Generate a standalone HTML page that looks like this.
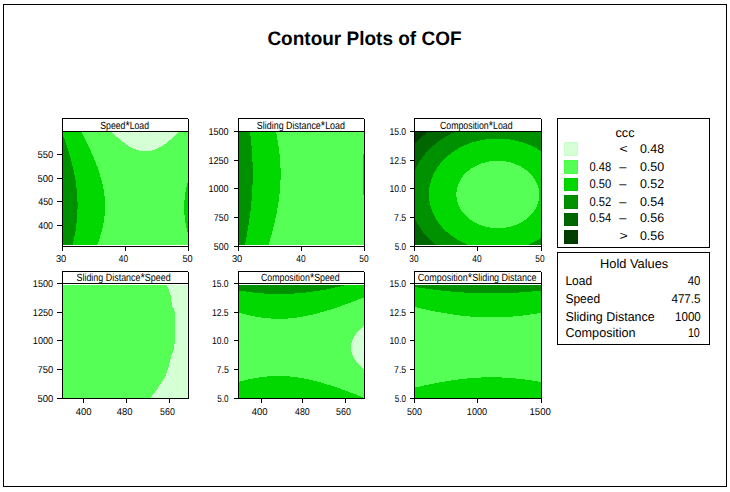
<!DOCTYPE html>
<html><head><meta charset="utf-8"><title>Contour Plots of COF</title><style>
html,body{margin:0;padding:0;background:#fff;width:730px;height:492px;overflow:hidden}
svg{display:block}
text{font-family:'Liberation Sans', Arial, sans-serif;fill:#000;text-rendering:geometricPrecision}
</style></head><body>
<svg width="730" height="492" viewBox="0 0 730 492">
<rect width="730" height="492" fill="#fff"/>
<g shape-rendering="crispEdges">
<path fill="#D5FFD5" d="M112 132h66v1h-66zM113 133h64v1h-64zM114 134h62v1h-62zM115 135h60v1h-60zM116 136h58v1h-58zM118 137h55v1h-55zM119 138h53v1h-53zM120 139h51v1h-51zM121 140h48v1h-48zM122 141h46v1h-46zM124 142h43v1h-43zM125 143h41v1h-41zM126 144h38v1h-38zM128 145h35v1h-35zM129 146h32v1h-32zM131 147h28v1h-28zM133 148h24v1h-24zM136 149h19v1h-19zM139 150h13v1h-13z"/>
<path fill="#55FF55" d="M82 132h30v1h-30zM178 132h10v1h-10zM82 133h31v1h-31zM177 133h11v1h-11zM83 134h31v1h-31zM176 134h12v1h-12zM83 135h32v1h-32zM175 135h13v1h-13zM84 136h32v1h-32zM174 136h14v1h-14zM84 137h34v1h-34zM173 137h15v1h-15zM85 138h34v1h-34zM172 138h16v1h-16zM85 139h35v1h-35zM171 139h17v1h-17zM86 140h35v1h-35zM169 140h19v1h-19zM86 141h36v1h-36zM168 141h20v1h-20zM87 142h37v1h-37zM167 142h21v1h-21zM87 143h38v1h-38zM166 143h22v1h-22zM88 144h38v1h-38zM164 144h24v1h-24zM88 145h40v1h-40zM163 145h25v1h-25zM89 146h40v1h-40zM161 146h27v1h-27zM89 147h42v1h-42zM159 147h29v1h-29zM90 148h43v1h-43zM157 148h31v1h-31zM90 149h46v1h-46zM155 149h33v1h-33zM91 150h48v1h-48zM152 150h36v1h-36zM91 151h97v1h-97zM91 152h97v1h-97zM92 153h96v1h-96zM92 154h96v1h-96zM93 155h95v1h-95zM93 156h95v1h-95zM94 157h94v1h-94zM94 158h94v1h-94zM94 159h94v1h-94zM95 160h93v1h-93zM95 161h93v1h-93zM96 162h92v1h-92zM96 163h92v1h-92zM96 164h92v1h-92zM97 165h91v1h-91zM97 166h91v1h-91zM98 167h90v1h-90zM98 168h90v1h-90zM98 169h90v1h-90zM99 170h89v1h-89zM99 171h89v1h-89zM99 172h89v1h-89zM100 173h88v1h-88zM100 174h88v1h-88zM100 175h88v1h-88zM100 176h88v1h-88zM101 177h87v1h-87zM101 178h87v1h-87zM101 179h87v1h-87zM102 180h86v1h-86zM102 181h86v1h-86zM102 182h86v1h-86zM102 183h85v1h-85zM103 184h84v1h-84zM103 185h84v1h-84zM103 186h84v1h-84zM103 187h83v1h-83zM103 188h83v1h-83zM104 189h82v1h-82zM104 190h82v1h-82zM104 191h82v1h-82zM104 192h81v1h-81zM104 193h81v1h-81zM104 194h81v1h-81zM104 195h81v1h-81zM105 196h80v1h-80zM105 197h80v1h-80zM105 198h80v1h-80zM105 199h80v1h-80zM105 200h79v1h-79zM105 201h79v1h-79zM105 202h79v1h-79zM105 203h79v1h-79zM105 204h79v1h-79zM105 205h79v1h-79zM105 206h79v1h-79zM105 207h79v1h-79zM105 208h79v1h-79zM105 209h79v1h-79zM105 210h79v1h-79zM105 211h79v1h-79zM105 212h79v1h-79zM105 213h79v1h-79zM105 214h79v1h-79zM105 215h80v1h-80zM104 216h81v1h-81zM104 217h81v1h-81zM104 218h81v1h-81zM104 219h81v1h-81zM104 220h81v1h-81zM104 221h81v1h-81zM104 222h81v1h-81zM103 223h83v1h-83zM103 224h83v1h-83zM103 225h83v1h-83zM103 226h83v1h-83zM103 227h83v1h-83zM102 228h85v1h-85zM102 229h85v1h-85zM102 230h85v1h-85zM102 231h85v1h-85zM101 232h87v1h-87zM101 233h87v1h-87zM101 234h87v1h-87zM100 235h88v1h-88zM100 236h88v1h-88zM100 237h88v1h-88zM100 238h88v1h-88zM99 239h89v1h-89zM99 240h89v1h-89zM99 241h89v1h-89zM98 242h90v1h-90zM98 243h90v1h-90zM97 244h91v1h-91z"/>
<path fill="#00D800" d="M63 132h19v1h-19zM63 133h19v1h-19zM63 134h20v1h-20zM63 135h20v1h-20zM63 136h21v1h-21zM64 137h20v1h-20zM64 138h21v1h-21zM65 139h20v1h-20zM65 140h21v1h-21zM65 141h21v1h-21zM66 142h21v1h-21zM66 143h21v1h-21zM66 144h22v1h-22zM67 145h21v1h-21zM67 146h22v1h-22zM67 147h22v1h-22zM68 148h22v1h-22zM68 149h22v1h-22zM68 150h23v1h-23zM69 151h22v1h-22zM69 152h22v1h-22zM69 153h23v1h-23zM69 154h23v1h-23zM70 155h23v1h-23zM70 156h23v1h-23zM70 157h24v1h-24zM71 158h23v1h-23zM71 159h23v1h-23zM71 160h24v1h-24zM71 161h24v1h-24zM72 162h24v1h-24zM72 163h24v1h-24zM72 164h24v1h-24zM72 165h25v1h-25zM73 166h24v1h-24zM73 167h25v1h-25zM73 168h25v1h-25zM73 169h25v1h-25zM74 170h25v1h-25zM74 171h25v1h-25zM74 172h25v1h-25zM74 173h26v1h-26zM74 174h26v1h-26zM75 175h25v1h-25zM75 176h25v1h-25zM75 177h26v1h-26zM75 178h26v1h-26zM75 179h26v1h-26zM76 180h26v1h-26zM76 181h26v1h-26zM76 182h26v1h-26zM76 183h26v1h-26zM187 183h1v1h-1zM76 184h27v1h-27zM187 184h1v1h-1zM76 185h27v1h-27zM187 185h1v1h-1zM76 186h27v1h-27zM187 186h1v1h-1zM76 187h27v1h-27zM186 187h2v1h-2zM77 188h26v1h-26zM186 188h2v1h-2zM77 189h27v1h-27zM186 189h2v1h-2zM77 190h27v1h-27zM186 190h2v1h-2zM77 191h27v1h-27zM186 191h2v1h-2zM77 192h27v1h-27zM185 192h3v1h-3zM77 193h27v1h-27zM185 193h3v1h-3zM77 194h27v1h-27zM185 194h3v1h-3zM77 195h27v1h-27zM185 195h3v1h-3zM77 196h28v1h-28zM185 196h3v1h-3zM77 197h28v1h-28zM185 197h3v1h-3zM77 198h28v1h-28zM185 198h3v1h-3zM77 199h28v1h-28zM185 199h3v1h-3zM77 200h28v1h-28zM184 200h4v1h-4zM77 201h28v1h-28zM184 201h4v1h-4zM78 202h27v1h-27zM184 202h4v1h-4zM78 203h27v1h-27zM184 203h4v1h-4zM78 204h27v1h-27zM184 204h4v1h-4zM78 205h27v1h-27zM184 205h4v1h-4zM78 206h27v1h-27zM184 206h4v1h-4zM78 207h27v1h-27zM184 207h4v1h-4zM78 208h27v1h-27zM184 208h4v1h-4zM77 209h28v1h-28zM184 209h4v1h-4zM77 210h28v1h-28zM184 210h4v1h-4zM77 211h28v1h-28zM184 211h4v1h-4zM77 212h28v1h-28zM184 212h4v1h-4zM77 213h28v1h-28zM184 213h4v1h-4zM77 214h28v1h-28zM184 214h4v1h-4zM77 215h28v1h-28zM185 215h3v1h-3zM77 216h27v1h-27zM185 216h3v1h-3zM77 217h27v1h-27zM185 217h3v1h-3zM77 218h27v1h-27zM185 218h3v1h-3zM77 219h27v1h-27zM185 219h3v1h-3zM77 220h27v1h-27zM185 220h3v1h-3zM77 221h27v1h-27zM185 221h3v1h-3zM77 222h27v1h-27zM185 222h3v1h-3zM76 223h27v1h-27zM186 223h2v1h-2zM76 224h27v1h-27zM186 224h2v1h-2zM76 225h27v1h-27zM186 225h2v1h-2zM76 226h27v1h-27zM186 226h2v1h-2zM76 227h27v1h-27zM186 227h2v1h-2zM76 228h26v1h-26zM187 228h1v1h-1zM76 229h26v1h-26zM187 229h1v1h-1zM76 230h26v1h-26zM187 230h1v1h-1zM75 231h27v1h-27zM187 231h1v1h-1zM75 232h26v1h-26zM75 233h26v1h-26zM75 234h26v1h-26zM75 235h25v1h-25zM74 236h26v1h-26zM74 237h26v1h-26zM74 238h26v1h-26zM74 239h25v1h-25zM74 240h25v1h-25zM73 241h26v1h-26zM73 242h25v1h-25zM73 243h25v1h-25zM73 244h24v1h-24z"/>
<path fill="#009100" d="M63 137h1v1h-1zM63 138h1v1h-1zM63 139h2v1h-2zM63 140h2v1h-2zM63 141h2v1h-2zM63 142h3v1h-3zM63 143h3v1h-3zM63 144h3v1h-3zM63 145h4v1h-4zM63 146h4v1h-4zM63 147h4v1h-4zM63 148h5v1h-5zM63 149h5v1h-5zM63 150h5v1h-5zM63 151h6v1h-6zM63 152h6v1h-6zM63 153h6v1h-6zM63 154h6v1h-6zM63 155h7v1h-7zM63 156h7v1h-7zM63 157h7v1h-7zM63 158h8v1h-8zM63 159h8v1h-8zM63 160h8v1h-8zM63 161h8v1h-8zM63 162h9v1h-9zM63 163h9v1h-9zM63 164h9v1h-9zM63 165h9v1h-9zM63 166h10v1h-10zM63 167h10v1h-10zM63 168h10v1h-10zM63 169h10v1h-10zM63 170h11v1h-11zM63 171h11v1h-11zM63 172h11v1h-11zM63 173h11v1h-11zM63 174h11v1h-11zM63 175h12v1h-12zM63 176h12v1h-12zM63 177h12v1h-12zM63 178h12v1h-12zM63 179h12v1h-12zM63 180h13v1h-13zM63 181h13v1h-13zM63 182h13v1h-13zM63 183h13v1h-13zM63 184h13v1h-13zM63 185h13v1h-13zM63 186h13v1h-13zM63 187h13v1h-13zM63 188h14v1h-14zM63 189h14v1h-14zM63 190h14v1h-14zM63 191h14v1h-14zM63 192h14v1h-14zM63 193h14v1h-14zM63 194h14v1h-14zM63 195h14v1h-14zM63 196h14v1h-14zM63 197h14v1h-14zM63 198h14v1h-14zM63 199h14v1h-14zM63 200h14v1h-14zM63 201h14v1h-14zM63 202h15v1h-15zM63 203h15v1h-15zM63 204h15v1h-15zM63 205h15v1h-15zM63 206h15v1h-15zM63 207h15v1h-15zM63 208h15v1h-15zM63 209h14v1h-14zM63 210h14v1h-14zM63 211h14v1h-14zM63 212h14v1h-14zM63 213h14v1h-14zM63 214h14v1h-14zM63 215h14v1h-14zM63 216h14v1h-14zM63 217h14v1h-14zM63 218h14v1h-14zM63 219h14v1h-14zM63 220h14v1h-14zM63 221h14v1h-14zM63 222h14v1h-14zM63 223h13v1h-13zM63 224h13v1h-13zM63 225h13v1h-13zM63 226h13v1h-13zM63 227h13v1h-13zM63 228h13v1h-13zM63 229h13v1h-13zM63 230h13v1h-13zM63 231h12v1h-12zM63 232h12v1h-12zM63 233h12v1h-12zM63 234h12v1h-12zM63 235h12v1h-12zM63 236h11v1h-11zM63 237h11v1h-11zM63 238h11v1h-11zM63 239h11v1h-11zM63 240h11v1h-11zM63 241h10v1h-10zM63 242h10v1h-10zM63 243h10v1h-10zM63 244h10v1h-10z"/>
<path fill="#55FF55" d="M276 132h88v1h-88zM276 133h88v1h-88zM277 134h87v1h-87zM277 135h87v1h-87zM277 136h87v1h-87zM277 137h87v1h-87zM277 138h87v1h-87zM277 139h87v1h-87zM278 140h86v1h-86zM278 141h86v1h-86zM278 142h86v1h-86zM278 143h86v1h-86zM278 144h86v1h-86zM278 145h86v1h-86zM279 146h85v1h-85zM279 147h85v1h-85zM279 148h85v1h-85zM279 149h85v1h-85zM279 150h85v1h-85zM279 151h85v1h-85zM279 152h85v1h-85zM279 153h85v1h-85zM280 154h83v1h-83zM280 155h83v1h-83zM280 156h83v1h-83zM280 157h83v1h-83zM280 158h83v1h-83zM280 159h83v1h-83zM280 160h83v1h-83zM280 161h83v1h-83zM280 162h83v1h-83zM280 163h83v1h-83zM280 164h83v1h-83zM280 165h83v1h-83zM280 166h83v1h-83zM280 167h83v1h-83zM281 168h82v1h-82zM281 169h82v1h-82zM281 170h82v1h-82zM281 171h82v1h-82zM281 172h82v1h-82zM281 173h82v1h-82zM281 174h82v1h-82zM281 175h82v1h-82zM281 176h82v1h-82zM281 177h82v1h-82zM281 178h82v1h-82zM281 179h82v1h-82zM280 180h83v1h-83zM280 181h83v1h-83zM280 182h83v1h-83zM280 183h83v1h-83zM280 184h83v1h-83zM280 185h83v1h-83zM280 186h83v1h-83zM280 187h83v1h-83zM280 188h83v1h-83zM280 189h83v1h-83zM280 190h83v1h-83zM280 191h83v1h-83zM280 192h83v1h-83zM280 193h83v1h-83zM279 194h84v1h-84zM279 195h85v1h-85zM279 196h85v1h-85zM279 197h85v1h-85zM279 198h85v1h-85zM279 199h85v1h-85zM279 200h85v1h-85zM279 201h85v1h-85zM278 202h86v1h-86zM278 203h86v1h-86zM278 204h86v1h-86zM278 205h86v1h-86zM278 206h86v1h-86zM278 207h86v1h-86zM277 208h87v1h-87zM277 209h87v1h-87zM277 210h87v1h-87zM277 211h87v1h-87zM277 212h87v1h-87zM277 213h87v1h-87zM276 214h88v1h-88zM276 215h88v1h-88zM276 216h88v1h-88zM276 217h88v1h-88zM275 218h89v1h-89zM275 219h89v1h-89zM275 220h89v1h-89zM275 221h89v1h-89zM275 222h89v1h-89zM274 223h90v1h-90zM274 224h90v1h-90zM274 225h90v1h-90zM274 226h90v1h-90zM273 227h91v1h-91zM273 228h91v1h-91zM273 229h91v1h-91zM273 230h91v1h-91zM272 231h92v1h-92zM272 232h92v1h-92zM272 233h92v1h-92zM272 234h92v1h-92zM271 235h93v1h-93zM271 236h93v1h-93zM271 237h93v1h-93zM270 238h94v1h-94zM270 239h94v1h-94zM270 240h94v1h-94zM270 241h94v1h-94zM269 242h95v1h-95zM269 243h95v1h-95zM269 244h95v1h-95z"/>
<path fill="#00D800" d="M250 132h26v1h-26zM250 133h26v1h-26zM250 134h27v1h-27zM250 135h27v1h-27zM251 136h26v1h-26zM251 137h26v1h-26zM251 138h26v1h-26zM251 139h26v1h-26zM251 140h27v1h-27zM251 141h27v1h-27zM251 142h27v1h-27zM251 143h27v1h-27zM251 144h27v1h-27zM251 145h27v1h-27zM252 146h27v1h-27zM252 147h27v1h-27zM252 148h27v1h-27zM252 149h27v1h-27zM252 150h27v1h-27zM252 151h27v1h-27zM252 152h27v1h-27zM252 153h27v1h-27zM252 154h28v1h-28zM363 154h1v1h-1zM252 155h28v1h-28zM363 155h1v1h-1zM252 156h28v1h-28zM363 156h1v1h-1zM252 157h28v1h-28zM363 157h1v1h-1zM252 158h28v1h-28zM363 158h1v1h-1zM252 159h28v1h-28zM363 159h1v1h-1zM252 160h28v1h-28zM363 160h1v1h-1zM252 161h28v1h-28zM363 161h1v1h-1zM253 162h27v1h-27zM363 162h1v1h-1zM253 163h27v1h-27zM363 163h1v1h-1zM253 164h27v1h-27zM363 164h1v1h-1zM253 165h27v1h-27zM363 165h1v1h-1zM253 166h27v1h-27zM363 166h1v1h-1zM253 167h27v1h-27zM363 167h1v1h-1zM253 168h28v1h-28zM363 168h1v1h-1zM253 169h28v1h-28zM363 169h1v1h-1zM253 170h28v1h-28zM363 170h1v1h-1zM253 171h28v1h-28zM363 171h1v1h-1zM253 172h28v1h-28zM363 172h1v1h-1zM253 173h28v1h-28zM363 173h1v1h-1zM253 174h28v1h-28zM363 174h1v1h-1zM253 175h28v1h-28zM363 175h1v1h-1zM253 176h28v1h-28zM363 176h1v1h-1zM253 177h28v1h-28zM363 177h1v1h-1zM253 178h28v1h-28zM363 178h1v1h-1zM253 179h28v1h-28zM363 179h1v1h-1zM253 180h27v1h-27zM363 180h1v1h-1zM253 181h27v1h-27zM363 181h1v1h-1zM253 182h27v1h-27zM363 182h1v1h-1zM253 183h27v1h-27zM363 183h1v1h-1zM253 184h27v1h-27zM363 184h1v1h-1zM252 185h28v1h-28zM363 185h1v1h-1zM252 186h28v1h-28zM363 186h1v1h-1zM252 187h28v1h-28zM363 187h1v1h-1zM252 188h28v1h-28zM363 188h1v1h-1zM252 189h28v1h-28zM363 189h1v1h-1zM252 190h28v1h-28zM363 190h1v1h-1zM252 191h28v1h-28zM363 191h1v1h-1zM252 192h28v1h-28zM363 192h1v1h-1zM252 193h28v1h-28zM363 193h1v1h-1zM252 194h27v1h-27zM363 194h1v1h-1zM252 195h27v1h-27zM252 196h27v1h-27zM252 197h27v1h-27zM252 198h27v1h-27zM252 199h27v1h-27zM252 200h27v1h-27zM251 201h28v1h-28zM251 202h27v1h-27zM251 203h27v1h-27zM251 204h27v1h-27zM251 205h27v1h-27zM251 206h27v1h-27zM251 207h27v1h-27zM251 208h26v1h-26zM251 209h26v1h-26zM251 210h26v1h-26zM250 211h27v1h-27zM250 212h27v1h-27zM250 213h27v1h-27zM250 214h26v1h-26zM250 215h26v1h-26zM250 216h26v1h-26zM250 217h26v1h-26zM249 218h26v1h-26zM249 219h26v1h-26zM249 220h26v1h-26zM249 221h26v1h-26zM249 222h26v1h-26zM249 223h25v1h-25zM249 224h25v1h-25zM248 225h26v1h-26zM248 226h26v1h-26zM248 227h25v1h-25zM248 228h25v1h-25zM248 229h25v1h-25zM248 230h25v1h-25zM247 231h25v1h-25zM247 232h25v1h-25zM247 233h25v1h-25zM247 234h25v1h-25zM247 235h24v1h-24zM247 236h24v1h-24zM246 237h25v1h-25zM246 238h24v1h-24zM246 239h24v1h-24zM246 240h24v1h-24zM246 241h24v1h-24zM245 242h24v1h-24zM245 243h24v1h-24zM245 244h24v1h-24z"/>
<path fill="#009100" d="M239 132h11v1h-11zM239 133h11v1h-11zM239 134h11v1h-11zM239 135h11v1h-11zM239 136h12v1h-12zM239 137h12v1h-12zM239 138h12v1h-12zM239 139h12v1h-12zM239 140h12v1h-12zM239 141h12v1h-12zM239 142h12v1h-12zM239 143h12v1h-12zM239 144h12v1h-12zM239 145h12v1h-12zM239 146h13v1h-13zM239 147h13v1h-13zM239 148h13v1h-13zM239 149h13v1h-13zM239 150h13v1h-13zM239 151h13v1h-13zM239 152h13v1h-13zM239 153h13v1h-13zM239 154h13v1h-13zM239 155h13v1h-13zM239 156h13v1h-13zM239 157h13v1h-13zM239 158h13v1h-13zM239 159h13v1h-13zM239 160h13v1h-13zM239 161h13v1h-13zM239 162h14v1h-14zM239 163h14v1h-14zM239 164h14v1h-14zM239 165h14v1h-14zM239 166h14v1h-14zM239 167h14v1h-14zM239 168h14v1h-14zM239 169h14v1h-14zM239 170h14v1h-14zM239 171h14v1h-14zM239 172h14v1h-14zM239 173h14v1h-14zM239 174h14v1h-14zM239 175h14v1h-14zM239 176h14v1h-14zM239 177h14v1h-14zM239 178h14v1h-14zM239 179h14v1h-14zM239 180h14v1h-14zM239 181h14v1h-14zM239 182h14v1h-14zM239 183h14v1h-14zM239 184h14v1h-14zM239 185h13v1h-13zM239 186h13v1h-13zM239 187h13v1h-13zM239 188h13v1h-13zM239 189h13v1h-13zM239 190h13v1h-13zM239 191h13v1h-13zM239 192h13v1h-13zM239 193h13v1h-13zM239 194h13v1h-13zM239 195h13v1h-13zM239 196h13v1h-13zM239 197h13v1h-13zM239 198h13v1h-13zM239 199h13v1h-13zM239 200h13v1h-13zM239 201h12v1h-12zM239 202h12v1h-12zM239 203h12v1h-12zM239 204h12v1h-12zM239 205h12v1h-12zM239 206h12v1h-12zM239 207h12v1h-12zM239 208h12v1h-12zM239 209h12v1h-12zM239 210h12v1h-12zM239 211h11v1h-11zM239 212h11v1h-11zM239 213h11v1h-11zM239 214h11v1h-11zM239 215h11v1h-11zM239 216h11v1h-11zM239 217h11v1h-11zM239 218h10v1h-10zM239 219h10v1h-10zM239 220h10v1h-10zM239 221h10v1h-10zM239 222h10v1h-10zM239 223h10v1h-10zM239 224h10v1h-10zM239 225h9v1h-9zM239 226h9v1h-9zM239 227h9v1h-9zM239 228h9v1h-9zM239 229h9v1h-9zM239 230h9v1h-9zM239 231h8v1h-8zM239 232h8v1h-8zM239 233h8v1h-8zM239 234h8v1h-8zM239 235h8v1h-8zM239 236h8v1h-8zM239 237h7v1h-7zM239 238h7v1h-7zM239 239h7v1h-7zM239 240h7v1h-7zM239 241h7v1h-7zM239 242h6v1h-6zM239 243h6v1h-6zM239 244h6v1h-6z"/>
<path fill="#55FF55" d="M489 161h17v1h-17zM485 162h26v1h-26zM481 163h33v1h-33zM479 164h37v1h-37zM477 165h42v1h-42zM475 166h46v1h-46zM473 167h49v1h-49zM471 168h53v1h-53zM470 169h55v1h-55zM469 170h58v1h-58zM467 171h61v1h-61zM466 172h63v1h-63zM465 173h65v1h-65zM464 174h67v1h-67zM463 175h69v1h-69zM463 176h70v1h-70zM462 177h71v1h-71zM461 178h73v1h-73zM461 179h74v1h-74zM460 180h75v1h-75zM460 181h76v1h-76zM459 182h77v1h-77zM459 183h78v1h-78zM458 184h79v1h-79zM458 185h80v1h-80zM458 186h80v1h-80zM457 187h81v1h-81zM457 188h82v1h-82zM457 189h82v1h-82zM457 190h82v1h-82zM457 191h82v1h-82zM456 192h83v1h-83zM456 193h83v1h-83zM456 194h83v1h-83zM456 195h83v1h-83zM456 196h83v1h-83zM457 197h82v1h-82zM457 198h82v1h-82zM457 199h82v1h-82zM457 200h82v1h-82zM457 201h81v1h-81zM458 202h80v1h-80zM458 203h80v1h-80zM458 204h79v1h-79zM459 205h78v1h-78zM459 206h78v1h-78zM460 207h76v1h-76zM460 208h76v1h-76zM461 209h74v1h-74zM461 210h73v1h-73zM462 211h72v1h-72zM463 212h70v1h-70zM464 213h68v1h-68zM465 214h66v1h-66zM466 215h64v1h-64zM467 216h62v1h-62zM468 217h60v1h-60zM469 218h58v1h-58zM470 219h56v1h-56zM472 220h52v1h-52zM473 221h50v1h-50zM475 222h46v1h-46zM477 223h42v1h-42zM479 224h38v1h-38zM482 225h32v1h-32zM485 226h26v1h-26zM490 227h16v1h-16z"/>
<path fill="#00D800" d="M485 139h25v1h-25zM480 140h35v1h-35zM476 141h43v1h-43zM472 142h51v1h-51zM469 143h57v1h-57zM467 144h61v1h-61zM464 145h67v1h-67zM462 146h71v1h-71zM460 147h75v1h-75zM458 148h79v1h-79zM457 149h81v1h-81zM455 150h85v1h-85zM454 151h87v1h-87zM452 152h89v1h-89zM451 153h90v1h-90zM450 154h91v1h-91zM448 155h93v1h-93zM447 156h94v1h-94zM446 157h95v1h-95zM445 158h96v1h-96zM444 159h97v1h-97zM443 160h98v1h-98zM442 161h47v1h-47zM506 161h35v1h-35zM441 162h44v1h-44zM511 162h30v1h-30zM440 163h41v1h-41zM514 163h27v1h-27zM440 164h39v1h-39zM516 164h25v1h-25zM439 165h38v1h-38zM519 165h22v1h-22zM438 166h37v1h-37zM521 166h20v1h-20zM437 167h36v1h-36zM522 167h19v1h-19zM437 168h34v1h-34zM524 168h17v1h-17zM436 169h34v1h-34zM525 169h16v1h-16zM436 170h33v1h-33zM527 170h14v1h-14zM435 171h32v1h-32zM528 171h13v1h-13zM434 172h32v1h-32zM529 172h12v1h-12zM434 173h31v1h-31zM530 173h11v1h-11zM433 174h31v1h-31zM531 174h10v1h-10zM433 175h30v1h-30zM532 175h9v1h-9zM433 176h30v1h-30zM533 176h8v1h-8zM432 177h30v1h-30zM533 177h8v1h-8zM432 178h29v1h-29zM534 178h7v1h-7zM431 179h30v1h-30zM535 179h6v1h-6zM431 180h29v1h-29zM535 180h6v1h-6zM431 181h29v1h-29zM536 181h5v1h-5zM431 182h28v1h-28zM536 182h5v1h-5zM430 183h29v1h-29zM537 183h4v1h-4zM430 184h28v1h-28zM537 184h4v1h-4zM430 185h28v1h-28zM538 185h3v1h-3zM430 186h28v1h-28zM538 186h3v1h-3zM429 187h28v1h-28zM538 187h3v1h-3zM429 188h28v1h-28zM539 188h2v1h-2zM429 189h28v1h-28zM539 189h2v1h-2zM429 190h28v1h-28zM539 190h2v1h-2zM429 191h28v1h-28zM539 191h2v1h-2zM429 192h27v1h-27zM539 192h2v1h-2zM429 193h27v1h-27zM539 193h2v1h-2zM429 194h27v1h-27zM539 194h2v1h-2zM429 195h27v1h-27zM539 195h2v1h-2zM429 196h27v1h-27zM539 196h2v1h-2zM429 197h28v1h-28zM539 197h2v1h-2zM429 198h28v1h-28zM539 198h2v1h-2zM429 199h28v1h-28zM539 199h2v1h-2zM429 200h28v1h-28zM539 200h2v1h-2zM430 201h27v1h-27zM538 201h3v1h-3zM430 202h28v1h-28zM538 202h3v1h-3zM430 203h28v1h-28zM538 203h3v1h-3zM430 204h28v1h-28zM537 204h4v1h-4zM430 205h29v1h-29zM537 205h4v1h-4zM431 206h28v1h-28zM537 206h4v1h-4zM431 207h29v1h-29zM536 207h5v1h-5zM431 208h29v1h-29zM536 208h5v1h-5zM432 209h29v1h-29zM535 209h6v1h-6zM432 210h29v1h-29zM534 210h7v1h-7zM432 211h30v1h-30zM534 211h7v1h-7zM433 212h30v1h-30zM533 212h8v1h-8zM433 213h31v1h-31zM532 213h9v1h-9zM434 214h31v1h-31zM531 214h10v1h-10zM434 215h32v1h-32zM530 215h11v1h-11zM435 216h32v1h-32zM529 216h12v1h-12zM435 217h33v1h-33zM528 217h13v1h-13zM436 218h33v1h-33zM527 218h14v1h-14zM436 219h34v1h-34zM526 219h15v1h-15zM437 220h35v1h-35zM524 220h17v1h-17zM438 221h35v1h-35zM523 221h18v1h-18zM438 222h37v1h-37zM521 222h20v1h-20zM439 223h38v1h-38zM519 223h22v1h-22zM440 224h39v1h-39zM517 224h24v1h-24zM441 225h41v1h-41zM514 225h27v1h-27zM442 226h43v1h-43zM511 226h30v1h-30zM442 227h48v1h-48zM506 227h35v1h-35zM443 228h98v1h-98zM444 229h97v1h-97zM445 230h96v1h-96zM446 231h95v1h-95zM448 232h93v1h-93zM449 233h92v1h-92zM450 234h91v1h-91zM451 235h90v1h-90zM453 236h88v1h-88zM454 237h87v1h-87zM456 238h84v1h-84zM457 239h82v1h-82zM459 240h78v1h-78zM461 241h74v1h-74zM463 242h70v1h-70zM465 243h66v1h-66zM467 244h62v1h-62z"/>
<path fill="#009100" d="M454 132h87v1h-87zM451 133h90v1h-90zM450 134h91v1h-91zM448 135h93v1h-93zM446 136h95v1h-95zM444 137h97v1h-97zM443 138h98v1h-98zM441 139h44v1h-44zM510 139h31v1h-31zM440 140h40v1h-40zM515 140h26v1h-26zM438 141h38v1h-38zM519 141h22v1h-22zM437 142h35v1h-35zM523 142h18v1h-18zM436 143h33v1h-33zM526 143h15v1h-15zM435 144h32v1h-32zM528 144h13v1h-13zM433 145h31v1h-31zM531 145h10v1h-10zM432 146h30v1h-30zM533 146h8v1h-8zM431 147h29v1h-29zM535 147h6v1h-6zM430 148h28v1h-28zM537 148h4v1h-4zM429 149h28v1h-28zM538 149h3v1h-3zM428 150h27v1h-27zM540 150h1v1h-1zM427 151h27v1h-27zM426 152h26v1h-26zM425 153h26v1h-26zM425 154h25v1h-25zM424 155h24v1h-24zM423 156h24v1h-24zM422 157h24v1h-24zM422 158h23v1h-23zM421 159h23v1h-23zM420 160h23v1h-23zM419 161h23v1h-23zM419 162h22v1h-22zM418 163h22v1h-22zM418 164h22v1h-22zM417 165h22v1h-22zM417 166h21v1h-21zM416 167h21v1h-21zM416 168h21v1h-21zM415 169h21v1h-21zM415 170h21v1h-21zM415 171h20v1h-20zM415 172h19v1h-19zM415 173h19v1h-19zM415 174h18v1h-18zM415 175h18v1h-18zM415 176h18v1h-18zM415 177h17v1h-17zM415 178h17v1h-17zM415 179h16v1h-16zM415 180h16v1h-16zM415 181h16v1h-16zM415 182h16v1h-16zM415 183h15v1h-15zM415 184h15v1h-15zM415 185h15v1h-15zM415 186h15v1h-15zM415 187h14v1h-14zM415 188h14v1h-14zM415 189h14v1h-14zM415 190h14v1h-14zM415 191h14v1h-14zM415 192h14v1h-14zM415 193h14v1h-14zM415 194h14v1h-14zM415 195h14v1h-14zM415 196h14v1h-14zM415 197h14v1h-14zM415 198h14v1h-14zM415 199h14v1h-14zM415 200h14v1h-14zM415 201h15v1h-15zM415 202h15v1h-15zM415 203h15v1h-15zM415 204h15v1h-15zM415 205h15v1h-15zM415 206h16v1h-16zM415 207h16v1h-16zM415 208h16v1h-16zM415 209h17v1h-17zM415 210h17v1h-17zM415 211h17v1h-17zM415 212h18v1h-18zM415 213h18v1h-18zM415 214h19v1h-19zM415 215h19v1h-19zM415 216h20v1h-20zM415 217h20v1h-20zM415 218h21v1h-21zM415 219h21v1h-21zM416 220h21v1h-21zM416 221h22v1h-22zM417 222h21v1h-21zM417 223h22v1h-22zM418 224h22v1h-22zM419 225h22v1h-22zM419 226h23v1h-23zM420 227h22v1h-22zM421 228h22v1h-22zM421 229h23v1h-23zM422 230h23v1h-23zM423 231h23v1h-23zM423 232h25v1h-25zM424 233h25v1h-25zM425 234h25v1h-25zM426 235h25v1h-25zM427 236h26v1h-26zM428 237h26v1h-26zM429 238h27v1h-27zM540 238h1v1h-1zM430 239h27v1h-27zM539 239h2v1h-2zM431 240h28v1h-28zM537 240h4v1h-4zM432 241h29v1h-29zM535 241h6v1h-6zM433 242h30v1h-30zM533 242h8v1h-8zM434 243h31v1h-31zM531 243h10v1h-10zM435 244h32v1h-32zM529 244h12v1h-12z"/>
<path fill="#006600" d="M427 132h27v1h-27zM426 133h25v1h-25zM425 134h25v1h-25zM423 135h25v1h-25zM422 136h24v1h-24zM421 137h23v1h-23zM420 138h23v1h-23zM419 139h22v1h-22zM418 140h22v1h-22zM417 141h21v1h-21zM416 142h21v1h-21zM415 143h21v1h-21zM415 144h20v1h-20zM415 145h18v1h-18zM415 146h17v1h-17zM415 147h16v1h-16zM415 148h15v1h-15zM415 149h14v1h-14zM415 150h13v1h-13zM415 151h12v1h-12zM415 152h11v1h-11zM415 153h10v1h-10zM415 154h10v1h-10zM415 155h9v1h-9zM415 156h8v1h-8zM415 157h7v1h-7zM415 158h7v1h-7zM415 159h6v1h-6zM415 160h5v1h-5zM415 161h4v1h-4zM415 162h4v1h-4zM415 163h3v1h-3zM415 164h3v1h-3zM415 165h2v1h-2zM415 166h2v1h-2zM415 167h1v1h-1zM415 168h1v1h-1zM415 220h1v1h-1zM415 221h1v1h-1zM415 222h2v1h-2zM415 223h2v1h-2zM415 224h3v1h-3zM415 225h4v1h-4zM415 226h4v1h-4zM415 227h5v1h-5zM415 228h6v1h-6zM415 229h6v1h-6zM415 230h7v1h-7zM415 231h8v1h-8zM415 232h8v1h-8zM415 233h9v1h-9zM415 234h10v1h-10zM415 235h11v1h-11zM415 236h12v1h-12zM415 237h13v1h-13zM415 238h14v1h-14zM415 239h15v1h-15zM415 240h16v1h-16zM415 241h17v1h-17zM415 242h18v1h-18zM415 243h19v1h-19zM415 244h20v1h-20z"/>
<path fill="#003F00" d="M415 132h12v1h-12zM415 133h11v1h-11zM415 134h10v1h-10zM415 135h8v1h-8zM415 136h7v1h-7zM415 137h6v1h-6zM415 138h5v1h-5zM415 139h4v1h-4zM415 140h3v1h-3zM415 141h2v1h-2zM415 142h1v1h-1z"/>
<path fill="#D5FFD5" d="M167 285h21v1h-21zM167 286h21v1h-21zM168 287h20v1h-20zM168 288h20v1h-20zM169 289h19v1h-19zM169 290h19v1h-19zM169 291h19v1h-19zM170 292h18v1h-18zM170 293h18v1h-18zM170 294h18v1h-18zM171 295h17v1h-17zM171 296h17v1h-17zM171 297h17v1h-17zM171 298h17v1h-17zM171 299h17v1h-17zM171 300h17v1h-17zM171 301h17v1h-17zM172 302h16v1h-16zM172 303h16v1h-16zM172 304h16v1h-16zM172 305h16v1h-16zM172 306h16v1h-16zM173 307h15v1h-15zM174 308h14v1h-14zM174 309h14v1h-14zM174 310h14v1h-14zM175 311h13v1h-13zM175 312h13v1h-13zM175 313h13v1h-13zM175 314h13v1h-13zM175 315h13v1h-13zM175 316h13v1h-13zM175 317h13v1h-13zM175 318h13v1h-13zM175 319h13v1h-13zM175 320h13v1h-13zM175 321h13v1h-13zM175 322h13v1h-13zM175 323h13v1h-13zM175 324h13v1h-13zM175 325h13v1h-13zM175 326h13v1h-13zM175 327h13v1h-13zM175 328h13v1h-13zM175 329h13v1h-13zM175 330h13v1h-13zM175 331h13v1h-13zM175 332h13v1h-13zM175 333h13v1h-13zM175 334h13v1h-13zM175 335h13v1h-13zM175 336h13v1h-13zM175 337h13v1h-13zM175 338h13v1h-13zM175 339h13v1h-13zM175 340h13v1h-13zM175 341h13v1h-13zM175 342h13v1h-13zM175 343h13v1h-13zM174 344h14v1h-14zM174 345h14v1h-14zM174 346h14v1h-14zM174 347h14v1h-14zM174 348h14v1h-14zM174 349h14v1h-14zM173 350h15v1h-15zM173 351h15v1h-15zM173 352h15v1h-15zM172 353h16v1h-16zM172 354h16v1h-16zM171 355h17v1h-17zM171 356h17v1h-17zM171 357h17v1h-17zM171 358h17v1h-17zM170 359h18v1h-18zM170 360h18v1h-18zM170 361h18v1h-18zM170 362h18v1h-18zM169 363h19v1h-19zM169 364h19v1h-19zM169 365h19v1h-19zM169 366h19v1h-19zM168 367h20v1h-20zM168 368h20v1h-20zM168 369h20v1h-20zM167 370h21v1h-21zM167 371h21v1h-21zM167 372h21v1h-21zM166 373h22v1h-22zM166 374h22v1h-22zM166 375h22v1h-22zM165 376h23v1h-23zM165 377h23v1h-23zM164 378h24v1h-24zM163 379h25v1h-25zM163 380h25v1h-25zM162 381h26v1h-26zM161 382h27v1h-27zM161 383h27v1h-27zM160 384h28v1h-28zM159 385h29v1h-29zM159 386h29v1h-29zM158 387h30v1h-30zM158 388h30v1h-30zM157 389h31v1h-31zM156 390h32v1h-32zM155 391h33v1h-33zM155 392h33v1h-33zM154 393h34v1h-34zM153 394h35v1h-35zM152 395h36v1h-36zM152 396h36v1h-36zM151 397h37v1h-37z"/>
<path fill="#55FF55" d="M63 285h104v1h-104zM63 286h104v1h-104zM63 287h105v1h-105zM63 288h105v1h-105zM63 289h106v1h-106zM63 290h106v1h-106zM63 291h106v1h-106zM63 292h107v1h-107zM63 293h107v1h-107zM63 294h107v1h-107zM63 295h108v1h-108zM63 296h108v1h-108zM63 297h108v1h-108zM63 298h108v1h-108zM63 299h108v1h-108zM63 300h108v1h-108zM63 301h108v1h-108zM63 302h109v1h-109zM63 303h109v1h-109zM63 304h109v1h-109zM63 305h109v1h-109zM63 306h109v1h-109zM63 307h110v1h-110zM63 308h111v1h-111zM63 309h111v1h-111zM63 310h111v1h-111zM63 311h112v1h-112zM63 312h112v1h-112zM63 313h112v1h-112zM63 314h112v1h-112zM63 315h112v1h-112zM63 316h112v1h-112zM63 317h112v1h-112zM63 318h112v1h-112zM63 319h112v1h-112zM63 320h112v1h-112zM63 321h112v1h-112zM63 322h112v1h-112zM63 323h112v1h-112zM63 324h112v1h-112zM63 325h112v1h-112zM63 326h112v1h-112zM63 327h112v1h-112zM63 328h112v1h-112zM63 329h112v1h-112zM63 330h112v1h-112zM63 331h112v1h-112zM63 332h112v1h-112zM63 333h112v1h-112zM63 334h112v1h-112zM63 335h112v1h-112zM63 336h112v1h-112zM63 337h112v1h-112zM63 338h112v1h-112zM63 339h112v1h-112zM63 340h112v1h-112zM63 341h112v1h-112zM63 342h112v1h-112zM63 343h112v1h-112zM63 344h111v1h-111zM63 345h111v1h-111zM63 346h111v1h-111zM63 347h111v1h-111zM63 348h111v1h-111zM63 349h111v1h-111zM63 350h110v1h-110zM63 351h110v1h-110zM63 352h110v1h-110zM63 353h109v1h-109zM63 354h109v1h-109zM63 355h108v1h-108zM63 356h108v1h-108zM63 357h108v1h-108zM63 358h108v1h-108zM63 359h107v1h-107zM63 360h107v1h-107zM63 361h107v1h-107zM63 362h107v1h-107zM63 363h106v1h-106zM63 364h106v1h-106zM63 365h106v1h-106zM63 366h106v1h-106zM63 367h105v1h-105zM63 368h105v1h-105zM63 369h105v1h-105zM63 370h104v1h-104zM63 371h104v1h-104zM63 372h104v1h-104zM63 373h103v1h-103zM63 374h103v1h-103zM63 375h103v1h-103zM63 376h102v1h-102zM63 377h102v1h-102zM63 378h101v1h-101zM63 379h100v1h-100zM63 380h100v1h-100zM63 381h99v1h-99zM63 382h98v1h-98zM63 383h98v1h-98zM63 384h97v1h-97zM63 385h96v1h-96zM63 386h96v1h-96zM63 387h95v1h-95zM63 388h95v1h-95zM63 389h94v1h-94zM63 390h93v1h-93zM63 391h92v1h-92zM63 392h92v1h-92zM63 393h91v1h-91zM63 394h90v1h-90zM63 395h89v1h-89zM63 396h89v1h-89zM63 397h88v1h-88z"/>
<path fill="#D5FFD5" d="M363 326h1v1h-1zM362 327h2v1h-2zM361 328h3v1h-3zM360 329h4v1h-4zM359 330h5v1h-5zM358 331h6v1h-6zM357 332h7v1h-7zM356 333h8v1h-8zM356 334h8v1h-8zM355 335h9v1h-9zM354 336h10v1h-10zM354 337h10v1h-10zM353 338h11v1h-11zM353 339h11v1h-11zM352 340h12v1h-12zM352 341h12v1h-12zM352 342h12v1h-12zM351 343h13v1h-13zM351 344h13v1h-13zM351 345h13v1h-13zM351 346h13v1h-13zM351 347h13v1h-13zM351 348h13v1h-13zM351 349h13v1h-13zM351 350h13v1h-13zM351 351h13v1h-13zM352 352h12v1h-12zM352 353h12v1h-12zM352 354h12v1h-12zM353 355h11v1h-11zM353 356h11v1h-11zM354 357h10v1h-10zM354 358h10v1h-10zM355 359h9v1h-9zM356 360h8v1h-8zM356 361h8v1h-8zM357 362h7v1h-7zM358 363h6v1h-6zM359 364h5v1h-5zM360 365h4v1h-4zM361 366h3v1h-3zM362 367h2v1h-2zM363 368h1v1h-1z"/>
<path fill="#55FF55" d="M361 298h3v1h-3zM358 299h6v1h-6zM356 300h8v1h-8zM353 301h11v1h-11zM351 302h13v1h-13zM348 303h16v1h-16zM345 304h19v1h-19zM342 305h22v1h-22zM340 306h24v1h-24zM337 307h27v1h-27zM334 308h30v1h-30zM331 309h33v1h-33zM327 310h37v1h-37zM324 311h40v1h-40zM320 312h44v1h-44zM239 313h3v1h-3zM317 313h47v1h-47zM239 314h7v1h-7zM313 314h51v1h-51zM239 315h11v1h-11zM308 315h56v1h-56zM239 316h16v1h-16zM303 316h61v1h-61zM239 317h22v1h-22zM297 317h67v1h-67zM239 318h32v1h-32zM288 318h76v1h-76zM239 319h125v1h-125zM239 320h125v1h-125zM239 321h125v1h-125zM239 322h125v1h-125zM239 323h125v1h-125zM239 324h125v1h-125zM239 325h125v1h-125zM239 326h124v1h-124zM239 327h123v1h-123zM239 328h122v1h-122zM239 329h121v1h-121zM239 330h120v1h-120zM239 331h119v1h-119zM239 332h118v1h-118zM239 333h117v1h-117zM239 334h117v1h-117zM239 335h116v1h-116zM239 336h115v1h-115zM239 337h115v1h-115zM239 338h114v1h-114zM239 339h114v1h-114zM239 340h113v1h-113zM239 341h113v1h-113zM239 342h113v1h-113zM239 343h112v1h-112zM239 344h112v1h-112zM239 345h112v1h-112zM239 346h112v1h-112zM239 347h112v1h-112zM239 348h112v1h-112zM239 349h112v1h-112zM239 350h112v1h-112zM239 351h112v1h-112zM239 352h113v1h-113zM239 353h113v1h-113zM239 354h113v1h-113zM239 355h114v1h-114zM239 356h114v1h-114zM239 357h115v1h-115zM239 358h115v1h-115zM239 359h116v1h-116zM239 360h117v1h-117zM239 361h117v1h-117zM239 362h118v1h-118zM239 363h119v1h-119zM239 364h120v1h-120zM239 365h121v1h-121zM239 366h122v1h-122zM239 367h123v1h-123zM239 368h124v1h-124zM239 369h125v1h-125zM239 370h125v1h-125zM239 371h125v1h-125zM239 372h125v1h-125zM239 373h125v1h-125zM239 374h125v1h-125zM239 375h125v1h-125zM239 376h28v1h-28zM290 376h74v1h-74zM239 377h20v1h-20zM298 377h66v1h-66zM239 378h14v1h-14zM304 378h60v1h-60zM239 379h9v1h-9zM309 379h55v1h-55zM239 380h5v1h-5zM313 380h51v1h-51zM239 381h1v1h-1zM317 381h47v1h-47zM321 382h43v1h-43zM324 383h40v1h-40zM327 384h37v1h-37zM331 385h33v1h-33zM334 386h30v1h-30zM337 387h27v1h-27zM340 388h24v1h-24zM342 389h22v1h-22zM345 390h19v1h-19zM348 391h16v1h-16zM350 392h14v1h-14zM353 393h11v1h-11zM356 394h8v1h-8zM358 395h6v1h-6zM361 396h3v1h-3zM363 397h1v1h-1z"/>
<path fill="#00D800" d="M344 285h20v1h-20zM340 286h24v1h-24zM335 287h29v1h-29zM331 288h33v1h-33zM326 289h38v1h-38zM320 290h44v1h-44zM239 291h7v1h-7zM313 291h51v1h-51zM239 292h14v1h-14zM306 292h58v1h-58zM239 293h25v1h-25zM294 293h70v1h-70zM239 294h125v1h-125zM239 295h125v1h-125zM239 296h125v1h-125zM239 297h125v1h-125zM239 298h122v1h-122zM239 299h119v1h-119zM239 300h117v1h-117zM239 301h114v1h-114zM239 302h112v1h-112zM239 303h109v1h-109zM239 304h106v1h-106zM239 305h103v1h-103zM239 306h101v1h-101zM239 307h98v1h-98zM239 308h95v1h-95zM239 309h92v1h-92zM239 310h88v1h-88zM239 311h85v1h-85zM239 312h81v1h-81zM242 313h75v1h-75zM246 314h67v1h-67zM250 315h58v1h-58zM255 316h48v1h-48zM261 317h36v1h-36zM271 318h17v1h-17zM267 376h23v1h-23zM259 377h39v1h-39zM253 378h51v1h-51zM248 379h61v1h-61zM244 380h69v1h-69zM240 381h77v1h-77zM239 382h82v1h-82zM239 383h85v1h-85zM239 384h88v1h-88zM239 385h92v1h-92zM239 386h95v1h-95zM239 387h98v1h-98zM239 388h101v1h-101zM239 389h103v1h-103zM239 390h106v1h-106zM239 391h109v1h-109zM239 392h111v1h-111zM239 393h114v1h-114zM239 394h117v1h-117zM239 395h119v1h-119zM239 396h122v1h-122zM239 397h124v1h-124z"/>
<path fill="#009100" d="M239 285h105v1h-105zM239 286h101v1h-101zM239 287h96v1h-96zM239 288h92v1h-92zM239 289h87v1h-87zM239 290h81v1h-81zM246 291h67v1h-67zM253 292h53v1h-53zM264 293h30v1h-30z"/>
<path fill="#55FF55" d="M415 307h2v1h-2zM415 308h6v1h-6zM415 309h11v1h-11zM415 310h15v1h-15zM415 311h20v1h-20zM415 312h26v1h-26zM415 313h32v1h-32zM537 313h4v1h-4zM415 314h38v1h-38zM530 314h11v1h-11zM415 315h45v1h-45zM523 315h18v1h-18zM415 316h55v1h-55zM513 316h28v1h-28zM415 317h126v1h-126zM415 318h126v1h-126zM415 319h126v1h-126zM415 320h126v1h-126zM415 321h126v1h-126zM415 322h126v1h-126zM415 323h126v1h-126zM415 324h126v1h-126zM415 325h126v1h-126zM415 326h126v1h-126zM415 327h126v1h-126zM415 328h126v1h-126zM415 329h126v1h-126zM415 330h126v1h-126zM415 331h126v1h-126zM415 332h126v1h-126zM415 333h126v1h-126zM415 334h126v1h-126zM415 335h126v1h-126zM415 336h126v1h-126zM415 337h126v1h-126zM415 338h126v1h-126zM415 339h126v1h-126zM415 340h126v1h-126zM415 341h126v1h-126zM415 342h126v1h-126zM415 343h126v1h-126zM415 344h126v1h-126zM415 345h126v1h-126zM415 346h126v1h-126zM415 347h126v1h-126zM415 348h126v1h-126zM415 349h126v1h-126zM415 350h126v1h-126zM415 351h126v1h-126zM415 352h126v1h-126zM415 353h126v1h-126zM415 354h126v1h-126zM415 355h126v1h-126zM415 356h126v1h-126zM415 357h126v1h-126zM415 358h126v1h-126zM415 359h126v1h-126zM415 360h126v1h-126zM415 361h126v1h-126zM415 362h126v1h-126zM415 363h126v1h-126zM415 364h126v1h-126zM415 365h126v1h-126zM415 366h126v1h-126zM415 367h126v1h-126zM415 368h126v1h-126zM415 369h126v1h-126zM415 370h126v1h-126zM415 371h126v1h-126zM415 372h126v1h-126zM415 373h126v1h-126zM415 374h126v1h-126zM415 375h126v1h-126zM415 376h126v1h-126zM415 377h66v1h-66zM502 377h39v1h-39zM415 378h52v1h-52zM516 378h25v1h-25zM415 379h43v1h-43zM525 379h16v1h-16zM415 380h36v1h-36zM532 380h9v1h-9zM415 381h30v1h-30zM538 381h3v1h-3zM415 382h24v1h-24zM415 383h19v1h-19zM415 384h14v1h-14zM415 385h9v1h-9zM415 386h5v1h-5z"/>
<path fill="#00D800" d="M415 287h3v1h-3zM415 288h10v1h-10zM415 289h18v1h-18zM415 290h26v1h-26zM415 291h36v1h-36zM532 291h9v1h-9zM415 292h49v1h-49zM519 292h22v1h-22zM415 293h126v1h-126zM415 294h126v1h-126zM415 295h126v1h-126zM415 296h126v1h-126zM415 297h126v1h-126zM415 298h126v1h-126zM415 299h126v1h-126zM415 300h126v1h-126zM415 301h126v1h-126zM415 302h126v1h-126zM415 303h126v1h-126zM415 304h126v1h-126zM415 305h126v1h-126zM415 306h126v1h-126zM417 307h124v1h-124zM421 308h120v1h-120zM426 309h115v1h-115zM430 310h111v1h-111zM435 311h106v1h-106zM441 312h100v1h-100zM447 313h90v1h-90zM453 314h77v1h-77zM460 315h63v1h-63zM470 316h43v1h-43zM481 377h21v1h-21zM467 378h49v1h-49zM458 379h67v1h-67zM451 380h81v1h-81zM445 381h93v1h-93zM439 382h102v1h-102zM434 383h107v1h-107zM429 384h112v1h-112zM424 385h117v1h-117zM420 386h121v1h-121zM415 387h126v1h-126zM415 388h126v1h-126zM415 389h126v1h-126zM415 390h126v1h-126zM415 391h126v1h-126zM415 392h126v1h-126zM415 393h126v1h-126zM415 394h126v1h-126zM415 395h126v1h-126zM415 396h126v1h-126zM415 397h126v1h-126z"/>
<path fill="#009100" d="M415 285h126v1h-126zM415 286h126v1h-126zM418 287h123v1h-123zM425 288h116v1h-116zM433 289h108v1h-108zM441 290h100v1h-100zM451 291h81v1h-81zM464 292h55v1h-55z"/>
<rect x="564" y="142" width="14" height="14" fill="#C8FFC8"/>
<rect x="565" y="143" width="12" height="12" fill="#D5FFD5"/>
<rect x="564" y="160" width="14" height="14" fill="#46FF46"/>
<rect x="565" y="161" width="12" height="12" fill="#55FF55"/>
<rect x="564" y="178" width="14" height="13" fill="#00CD00"/>
<rect x="565" y="179" width="12" height="11" fill="#00D800"/>
<rect x="564" y="195" width="14" height="14" fill="#008700"/>
<rect x="565" y="196" width="12" height="12" fill="#009100"/>
<rect x="564" y="213" width="14" height="13" fill="#005F00"/>
<rect x="565" y="214" width="12" height="11" fill="#006600"/>
<rect x="564" y="230" width="14" height="14" fill="#003A00"/>
<rect x="565" y="231" width="12" height="12" fill="#003F00"/>
</g>
<g shape-rendering="crispEdges" fill="#000">
<rect x="3" y="4" width="724" height="1"/>
<rect x="3" y="486" width="724" height="1"/>
<rect x="3" y="4" width="1" height="483"/>
<rect x="726" y="4" width="1" height="483"/>
<rect x="62" y="118" width="126" height="1"/>
<rect x="62" y="131" width="127" height="1"/>
<rect x="62" y="118" width="1" height="133"/>
<rect x="188" y="119" width="1" height="132"/>
<rect x="62" y="246" width="127" height="1"/>
<rect x="125" y="247" width="1" height="4"/>
<rect x="57" y="154" width="5" height="1"/>
<rect x="57" y="178" width="5" height="1"/>
<rect x="57" y="201" width="5" height="1"/>
<rect x="57" y="225" width="5" height="1"/>
<rect x="238" y="118" width="126" height="1"/>
<rect x="238" y="131" width="127" height="1"/>
<rect x="238" y="118" width="1" height="133"/>
<rect x="364" y="119" width="1" height="132"/>
<rect x="238" y="246" width="127" height="1"/>
<rect x="301" y="247" width="1" height="4"/>
<rect x="234" y="131" width="4" height="1"/>
<rect x="234" y="160" width="4" height="1"/>
<rect x="234" y="188" width="4" height="1"/>
<rect x="234" y="217" width="4" height="1"/>
<rect x="234" y="246" width="4" height="1"/>
<rect x="414" y="118" width="127" height="1"/>
<rect x="414" y="131" width="128" height="1"/>
<rect x="414" y="118" width="1" height="133"/>
<rect x="541" y="119" width="1" height="132"/>
<rect x="414" y="246" width="128" height="1"/>
<rect x="477" y="247" width="1" height="4"/>
<rect x="410" y="131" width="4" height="1"/>
<rect x="410" y="160" width="4" height="1"/>
<rect x="410" y="188" width="4" height="1"/>
<rect x="410" y="217" width="4" height="1"/>
<rect x="410" y="246" width="4" height="1"/>
<rect x="62" y="271" width="126" height="1"/>
<rect x="62" y="283" width="127" height="1"/>
<rect x="62" y="271" width="1" height="128"/>
<rect x="188" y="272" width="1" height="127"/>
<rect x="62" y="398" width="127" height="1"/>
<rect x="83" y="399" width="1" height="4"/>
<rect x="126" y="399" width="1" height="4"/>
<rect x="169" y="399" width="1" height="4"/>
<rect x="57" y="283" width="5" height="1"/>
<rect x="57" y="312" width="5" height="1"/>
<rect x="57" y="340" width="5" height="1"/>
<rect x="57" y="369" width="5" height="1"/>
<rect x="57" y="398" width="5" height="1"/>
<rect x="238" y="271" width="126" height="1"/>
<rect x="238" y="283" width="127" height="1"/>
<rect x="238" y="271" width="1" height="128"/>
<rect x="364" y="272" width="1" height="127"/>
<rect x="238" y="398" width="127" height="1"/>
<rect x="261" y="399" width="1" height="4"/>
<rect x="302" y="399" width="1" height="4"/>
<rect x="345" y="399" width="1" height="4"/>
<rect x="234" y="283" width="4" height="1"/>
<rect x="234" y="312" width="4" height="1"/>
<rect x="234" y="340" width="4" height="1"/>
<rect x="234" y="369" width="4" height="1"/>
<rect x="234" y="398" width="4" height="1"/>
<rect x="414" y="271" width="127" height="1"/>
<rect x="414" y="283" width="128" height="1"/>
<rect x="414" y="271" width="1" height="132"/>
<rect x="541" y="272" width="1" height="131"/>
<rect x="414" y="398" width="128" height="1"/>
<rect x="477" y="399" width="1" height="4"/>
<rect x="410" y="283" width="4" height="1"/>
<rect x="410" y="312" width="4" height="1"/>
<rect x="410" y="340" width="4" height="1"/>
<rect x="410" y="369" width="4" height="1"/>
<rect x="410" y="398" width="4" height="1"/>
<rect x="557" y="118" width="153" height="1"/>
<rect x="557" y="247" width="153" height="1"/>
<rect x="557" y="118" width="1" height="130"/>
<rect x="709" y="118" width="1" height="130"/>
<rect x="557" y="252" width="153" height="1"/>
<rect x="557" y="344" width="153" height="1"/>
<rect x="557" y="252" width="1" height="93"/>
<rect x="709" y="252" width="1" height="93"/>
</g>
<g>
<text x="267.40" y="45" font-size="19.5" font-weight="bold" textLength="194.20" lengthAdjust="spacingAndGlyphs">Contour Plots of COF</text>
<text x="100.32" y="128.7" font-size="10.5" textLength="48.69" lengthAdjust="spacingAndGlyphs">Speed<tspan font-size="13.12" dy="0.8">*</tspan><tspan dy="-0.8">Load</tspan></text>
<text x="256.82" y="128.7" font-size="10.5" textLength="88.20" lengthAdjust="spacingAndGlyphs">Sliding Distance<tspan font-size="13.12" dy="0.8">*</tspan><tspan dy="-0.8">Load</tspan></text>
<text x="439.90" y="128.7" font-size="10.5" textLength="72.72" lengthAdjust="spacingAndGlyphs">Composition<tspan font-size="13.12" dy="0.8">*</tspan><tspan dy="-0.8">Load</tspan></text>
<text x="76.48" y="281" font-size="10.5" textLength="94.21" lengthAdjust="spacingAndGlyphs">Sliding Distance<tspan font-size="13.12" dy="0.8">*</tspan><tspan dy="-0.8">Speed</tspan></text>
<text x="260.94" y="281" font-size="10.5" textLength="78.70" lengthAdjust="spacingAndGlyphs">Composition<tspan font-size="13.12" dy="0.8">*</tspan><tspan dy="-0.8">Speed</tspan></text>
<text x="417.86" y="281" font-size="10.5" textLength="118.71" lengthAdjust="spacingAndGlyphs">Composition<tspan font-size="13.12" dy="0.8">*</tspan><tspan dy="-0.8">Sliding Distance</tspan></text>
<text x="37.48" y="158" font-size="10.0" textLength="15.83" lengthAdjust="spacingAndGlyphs">550</text>
<text x="37.48" y="182" font-size="10.0" textLength="15.83" lengthAdjust="spacingAndGlyphs">500</text>
<text x="38.28" y="205" font-size="10.0" textLength="14.77" lengthAdjust="spacingAndGlyphs">450</text>
<text x="38.28" y="229" font-size="10.0" textLength="14.77" lengthAdjust="spacingAndGlyphs">400</text>
<text x="208.44" y="135" font-size="10.0" textLength="20.21" lengthAdjust="spacingAndGlyphs">1500</text>
<text x="208.44" y="164" font-size="10.0" textLength="20.21" lengthAdjust="spacingAndGlyphs">1250</text>
<text x="208.44" y="192" font-size="10.0" textLength="20.21" lengthAdjust="spacingAndGlyphs">1000</text>
<text x="213.86" y="221" font-size="10.0" textLength="14.70" lengthAdjust="spacingAndGlyphs">750</text>
<text x="213.86" y="250" font-size="10.0" textLength="14.77" lengthAdjust="spacingAndGlyphs">500</text>
<text x="389.40" y="135" font-size="10.0" textLength="16.68" lengthAdjust="spacingAndGlyphs">15.0</text>
<text x="389.40" y="164" font-size="10.0" textLength="16.68" lengthAdjust="spacingAndGlyphs">12.5</text>
<text x="389.40" y="192" font-size="10.0" textLength="16.68" lengthAdjust="spacingAndGlyphs">10.0</text>
<text x="394.02" y="221" font-size="10.0" textLength="12.27" lengthAdjust="spacingAndGlyphs">7.5</text>
<text x="394.82" y="250" font-size="10.0" textLength="11.15" lengthAdjust="spacingAndGlyphs">5.0</text>
<text x="32.86" y="287" font-size="10.0" textLength="20.21" lengthAdjust="spacingAndGlyphs">1500</text>
<text x="32.86" y="316" font-size="10.0" textLength="20.21" lengthAdjust="spacingAndGlyphs">1250</text>
<text x="32.86" y="344" font-size="10.0" textLength="20.21" lengthAdjust="spacingAndGlyphs">1000</text>
<text x="37.48" y="373" font-size="10.0" textLength="15.75" lengthAdjust="spacingAndGlyphs">750</text>
<text x="37.48" y="402" font-size="10.0" textLength="15.83" lengthAdjust="spacingAndGlyphs">500</text>
<text x="211.94" y="287" font-size="10.0" textLength="16.68" lengthAdjust="spacingAndGlyphs">15.0</text>
<text x="211.94" y="316" font-size="10.0" textLength="16.68" lengthAdjust="spacingAndGlyphs">12.5</text>
<text x="211.94" y="344" font-size="10.0" textLength="16.68" lengthAdjust="spacingAndGlyphs">10.0</text>
<text x="216.56" y="373" font-size="10.0" textLength="12.27" lengthAdjust="spacingAndGlyphs">7.5</text>
<text x="217.36" y="402" font-size="10.0" textLength="11.24" lengthAdjust="spacingAndGlyphs">5.0</text>
<text x="389.40" y="287" font-size="10.0" textLength="16.68" lengthAdjust="spacingAndGlyphs">15.0</text>
<text x="389.40" y="316" font-size="10.0" textLength="16.68" lengthAdjust="spacingAndGlyphs">12.5</text>
<text x="389.40" y="344" font-size="10.0" textLength="16.68" lengthAdjust="spacingAndGlyphs">10.0</text>
<text x="394.02" y="373" font-size="10.0" textLength="12.27" lengthAdjust="spacingAndGlyphs">7.5</text>
<text x="394.82" y="402" font-size="10.0" textLength="11.15" lengthAdjust="spacingAndGlyphs">5.0</text>
<text x="55.90" y="262" font-size="10.0" textLength="10.35" lengthAdjust="spacingAndGlyphs">30</text>
<text x="118.82" y="262" font-size="10.0" textLength="9.20" lengthAdjust="spacingAndGlyphs">40</text>
<text x="182.48" y="262" font-size="10.0" textLength="10.22" lengthAdjust="spacingAndGlyphs">50</text>
<text x="231.90" y="262" font-size="10.0" textLength="10.35" lengthAdjust="spacingAndGlyphs">30</text>
<text x="296.28" y="262" font-size="10.0" textLength="9.31" lengthAdjust="spacingAndGlyphs">40</text>
<text x="359.36" y="262" font-size="10.0" textLength="9.29" lengthAdjust="spacingAndGlyphs">50</text>
<text x="409.32" y="262" font-size="10.0" textLength="9.20" lengthAdjust="spacingAndGlyphs">30</text>
<text x="472.28" y="262" font-size="10.0" textLength="9.31" lengthAdjust="spacingAndGlyphs">40</text>
<text x="535.36" y="262" font-size="10.0" textLength="9.29" lengthAdjust="spacingAndGlyphs">50</text>
<text x="75.69" y="415" font-size="10.0" textLength="15.83" lengthAdjust="spacingAndGlyphs">400</text>
<text x="116.69" y="415" font-size="10.0" textLength="15.83" lengthAdjust="spacingAndGlyphs">480</text>
<text x="160.11" y="415" font-size="10.0" textLength="14.70" lengthAdjust="spacingAndGlyphs">560</text>
<text x="251.65" y="415" font-size="10.0" textLength="15.83" lengthAdjust="spacingAndGlyphs">400</text>
<text x="295.07" y="415" font-size="10.0" textLength="14.70" lengthAdjust="spacingAndGlyphs">480</text>
<text x="336.07" y="415" font-size="10.0" textLength="14.77" lengthAdjust="spacingAndGlyphs">560</text>
<text x="407.07" y="415" font-size="10.0" textLength="14.77" lengthAdjust="spacingAndGlyphs">500</text>
<text x="466.86" y="415" font-size="10.0" textLength="20.21" lengthAdjust="spacingAndGlyphs">1000</text>
<text x="529.56" y="415" font-size="10.0" textLength="21.27" lengthAdjust="spacingAndGlyphs">1500</text>
<text x="615.40" y="136.5" font-size="12.6" textLength="19.20" lengthAdjust="spacingAndGlyphs">ccc</text>
<text x="619.40" y="153" font-size="12.6" textLength="8.23" lengthAdjust="spacingAndGlyphs">&lt;</text>
<text x="639.94" y="153" font-size="12.6" textLength="24.25" lengthAdjust="spacingAndGlyphs">0.48</text>
<text x="589.40" y="171" font-size="12.6" textLength="21.70" lengthAdjust="spacingAndGlyphs">0.48</text>
<text x="619.24" y="171" font-size="12.6" textLength="7.17" lengthAdjust="spacingAndGlyphs">–</text>
<text x="639.94" y="171" font-size="12.6" textLength="24.25" lengthAdjust="spacingAndGlyphs">0.50</text>
<text x="589.40" y="188" font-size="12.6" textLength="21.70" lengthAdjust="spacingAndGlyphs">0.50</text>
<text x="619.24" y="188" font-size="12.6" textLength="7.17" lengthAdjust="spacingAndGlyphs">–</text>
<text x="639.94" y="188" font-size="12.6" textLength="24.25" lengthAdjust="spacingAndGlyphs">0.52</text>
<text x="589.40" y="205.6" font-size="12.6" textLength="21.70" lengthAdjust="spacingAndGlyphs">0.52</text>
<text x="619.24" y="205.6" font-size="12.6" textLength="7.17" lengthAdjust="spacingAndGlyphs">–</text>
<text x="639.94" y="205.6" font-size="12.6" textLength="24.25" lengthAdjust="spacingAndGlyphs">0.54</text>
<text x="589.40" y="222" font-size="12.6" textLength="21.70" lengthAdjust="spacingAndGlyphs">0.54</text>
<text x="619.24" y="222" font-size="12.6" textLength="7.17" lengthAdjust="spacingAndGlyphs">–</text>
<text x="639.94" y="222" font-size="12.6" textLength="24.25" lengthAdjust="spacingAndGlyphs">0.56</text>
<text x="619.40" y="240" font-size="12.6" textLength="8.23" lengthAdjust="spacingAndGlyphs">&gt;</text>
<text x="639.94" y="240" font-size="12.6" textLength="24.25" lengthAdjust="spacingAndGlyphs">0.56</text>
<text x="600.02" y="268.4" font-size="12.8" textLength="68.21" lengthAdjust="spacingAndGlyphs">Hold Values</text>
<text x="565.44" y="284.8" font-size="12.8" textLength="26.71" lengthAdjust="spacingAndGlyphs">Load</text>
<text x="687.78" y="284.8" font-size="12.8" textLength="12.69" lengthAdjust="spacingAndGlyphs">40</text>
<text x="565.44" y="302.9" font-size="12.8" textLength="34.72" lengthAdjust="spacingAndGlyphs">Speed</text>
<text x="671.40" y="302.9" font-size="12.8" textLength="29.20" lengthAdjust="spacingAndGlyphs">477.5</text>
<text x="565.44" y="320.8" font-size="12.8" textLength="89.20" lengthAdjust="spacingAndGlyphs">Sliding Distance</text>
<text x="675.02" y="320.8" font-size="12.8" textLength="25.76" lengthAdjust="spacingAndGlyphs">1000</text>
<text x="565.44" y="337.2" font-size="12.8" textLength="70.21" lengthAdjust="spacingAndGlyphs">Composition</text>
<text x="687.90" y="337.2" font-size="12.8" textLength="11.95" lengthAdjust="spacingAndGlyphs">10</text>
</g>
</svg>
</body></html>
